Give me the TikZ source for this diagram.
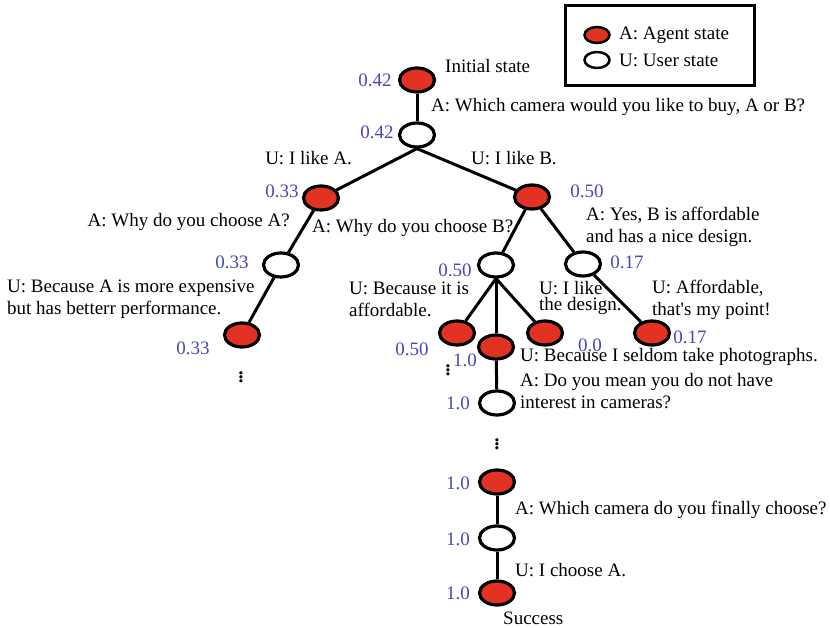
\documentclass[tikz,border=0pt]{standalone}
\usepackage{fontspec}
\setmainfont{Liberation Serif}
\usetikzlibrary{shapes.geometric}
\definecolor{agentred}{RGB}{226,50,35}
\definecolor{valblue}{RGB}{72,72,185}
\begin{document}
\begin{tikzpicture}[x=1pt,y=-1pt,
  st/.style={ellipse,draw=black,line width=3.2pt,minimum width=35pt,minimum height=24pt,inner sep=0pt},
  ag/.style={st,fill=agentred},
  us/.style={st,fill=white},
  lst/.style={ellipse,draw=black,line width=2.5pt,minimum width=25pt,minimum height=16pt,inner sep=0pt},
  val/.style={text=valblue,font=\fontsize{19}{22}\selectfont,inner sep=0pt},
  lab/.style={font=\fontsize{19}{22}\selectfont,inner sep=0pt,align=left},
  dots/.style={font=\fontsize{27}{29}\selectfont\boldmath,inner sep=0pt},
  edge/.style={line width=3pt},
  ]
\useasboundingbox (0,0) rectangle (830,628);
% legend
\node[draw,line width=3pt,minimum width=189pt,minimum height=80pt,inner sep=0pt] (legend) at (659.5,46) {};
\node[lst,fill=agentred] (lga) at (597,35) {};
\node[lst,fill=white] (lgu) at (597,60) {};
\node[lab,anchor=west] (lgat) at (619,35) {A: Agent state};
\node[lab,anchor=west] (lgut) at (619,60) {U: User state};
% states
\node[ag] (root) at (417,80) {};
\node[us] (u1) at (417,135) {};
\node[ag] (aA) at (321,198) {};
\node[ag] (aB) at (532,197) {};
\node[us] (uA) at (281,265) {};
\node[ag] (aA2) at (242,335) {};
\node[us] (uB1) at (496,265) {};
\node[us] (uB2) at (583,264) {};
\node[ag] (aB1) at (457,333) {};
\node[ag] (aB2) at (496,347) {};
\node[ag] (aB3) at (545,333) {};
\node[ag] (aB4) at (652,333) {};
\node[us] (uB3) at (497,403) {};
\node[ag] (aC) at (497,482) {};
\node[us] (uC) at (497,538) {};
\node[ag] (aS) at (497,593) {};
% edges
\draw[edge] (root) -- (u1);
\draw[edge] (u1.south) -- (aA);
\draw[edge] (u1.south) -- (aB);
\draw[edge] (aA) -- (uA);
\draw[edge] (uA) -- (aA2);
\draw[edge] (aB) -- (uB1);
\draw[edge] (aB) -- (uB2);
\draw[edge] (uB1.south) -- (aB1);
\draw[edge] (uB1.south) -- (aB2);
\draw[edge] (uB1.south) -- (aB3);
\draw[edge] (uB2) -- (aB4);
\draw[edge] (aB2) -- (uB3);
\draw[edge] (aC) -- (uC);
\draw[edge] (uC) -- (aS);
% values
\node[val] (v0) at (375,80) {0.42};
\node[val] (v1) at (377,132) {0.42};
\node[val] (vA) at (282,191) {0.33};
\node[val] (vB) at (587,191) {0.50};
\node[val] (vuA) at (232,262) {0.33};
\node[val] (vuB1) at (455,270) {0.50};
\node[val] (vuB2) at (627,262) {0.17};
\node[val] (vaA2) at (193,348) {0.33};
\node[val] (vaB1) at (412,349) {0.50};
\node[val] (vaB2) at (465,360) {1.0};
\node[val] (vaB3) at (590,345) {0.0};
\node[val] (vaB4) at (690,337) {0.17};
\node[val] (vuB3) at (458,403) {1.0};
\node[val] (vaC) at (458,483) {1.0};
\node[val] (vuC) at (458,539) {1.0};
\node[val] (vaS) at (458,593) {1.0};
% dots
\node[dots] (d1) at (241,374) {$\vdots$};
\node[dots] (d2) at (448,367) {$\vdots$};
\node[dots] (d3) at (497,441) {$\vdots$};
% texts
\node[lab,anchor=west] (tinit) at (445,66) {Initial state};
\node[lab,anchor=west] (t1) at (431,107) {A: Which camera would you like to buy, A or B?};
\node[lab,anchor=east] (t2) at (352,158) {U: I like A.};
\node[lab,anchor=west] (t3) at (471,158) {U: I like B.};
\node[lab,anchor=east] (t4) at (290,222) {A: Why do you choose A?};
\node[lab,anchor=west] (t5) at (312,228) {A: Why do you choose B?};
\node[lab,anchor=west] (t6) at (586,227) {A: Yes, B is affordable\\and has a nice design.};
\node[lab,anchor=west] (t7) at (7,299) {U: Because A is more expensive\\but has betterr performance.};
\node[lab,anchor=west] (t8) at (349,299) {U: Because it is\\affordable.};
\node[lab,anchor=west] (t9) at (539,298) {U: I like\\[-6pt]the design.};
\node[lab,anchor=west] (t10) at (652,300) {U: Affordable,\\that\textquotesingle s my point!};
\node[lab,anchor=west] (t11) at (520,357) {U: Because I seldom take photographs.};
\node[lab,anchor=west] (t12) at (520,391) {A: Do you mean you do not have\\interest in cameras?};
\node[lab,anchor=west] (t13) at (515,510) {A: Which camera do you finally choose?};
\node[lab,anchor=west] (t14) at (515,570) {U: I choose A.};
\node[lab,anchor=west] (t15) at (503,618) {Success};
\end{tikzpicture}
\end{document}
